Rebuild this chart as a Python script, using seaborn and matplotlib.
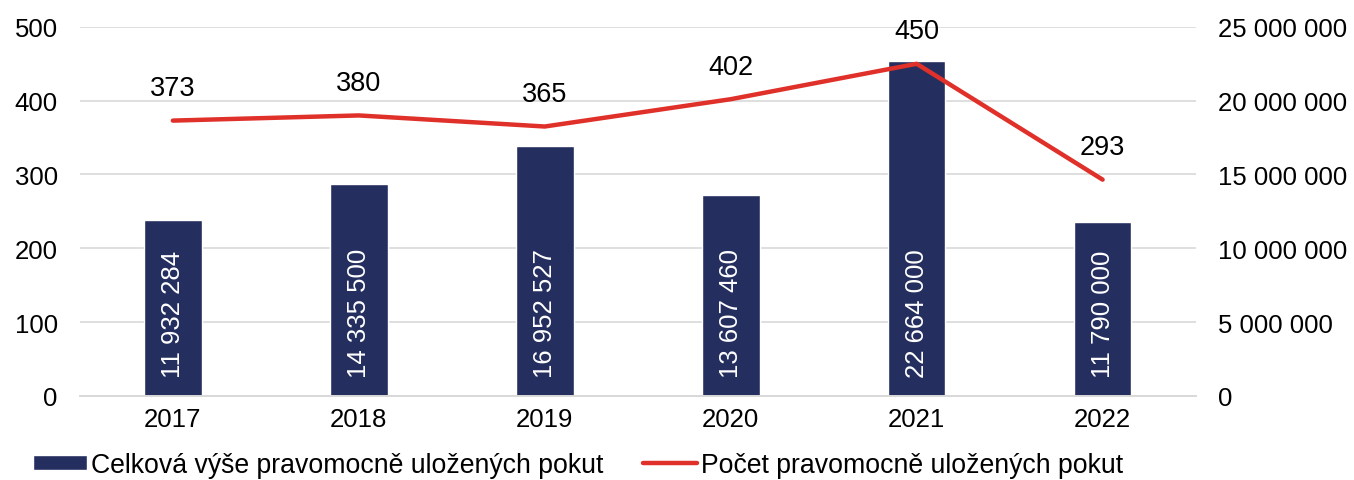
import numpy as np
import pandas as pd
import seaborn as sns
import matplotlib.pyplot as plt
from matplotlib.ticker import FuncFormatter

# data
roky = ["2017", "2018", "2019", "2020", "2021", "2022"]
vyse_pokut = [11932284, 14335500, 16952527, 13607460, 22664000, 11790000]
pocet_pokut = [373, 380, 365, 402, 450, 293]

bar_color = "#252F5F"
line_color = "#E0302A"

sns.set_theme(style="white")
plt.rcParams['font.family'] = ['Liberation Sans', 'DejaVu Sans']
plt.rcParams['font.size'] = 18.5
plt.rcParams['text.color'] = 'black'

df = pd.DataFrame({"rok": roky, "vyse": vyse_pokut, "pocet": pocet_pokut, "pos": np.arange(len(roky))})

fig, ax = plt.subplots(figsize=(13.54, 4.81), dpi=100)
fig.subplots_adjust(left=0.059, right=0.883, top=0.942, bottom=0.175)
ax2 = ax.twinx()

# bars on the primary axis (right scale)
sns.barplot(data=df, x="rok", y="vyse", color=bar_color, width=0.31, saturation=1,
            ax=ax, label="Celková výše pravomocně uložených pokut", zorder=2)
ax.set_ylim(0, 25000000)
ax.set_yticks(np.arange(0, 25000001, 5000000))
ax.yaxis.tick_right()
ax.yaxis.set_label_position("right")
ax.yaxis.set_major_formatter(FuncFormatter(lambda v, p: f"{int(v):,}".replace(",", " ")))
ax.grid(axis="y", color="#D9D9D9", linewidth=1.2, zorder=0)
ax.set_axisbelow(True)
ax.set_xlabel("")
ax.set_ylabel("")
ax.set_xlim(-0.5, 5.5)

for i, v in enumerate(vyse_pokut):
    ax.text(i, 1300000, f"{v:,}".replace(",", " "), rotation=90, ha="center", va="bottom",
            color="white", fontsize=18.5)

# line on the twin axis (left scale)
sns.lineplot(data=df, x="pos", y="pocet", color=line_color, linewidth=3.2, ax=ax2,
             label="Počet pravomocně uložených pokut", legend=False)
ax2.yaxis.tick_left()
ax2.yaxis.set_label_position("left")
ax2.set_ylim(0, 500)
ax2.set_yticks(np.arange(0, 501, 100))
ax2.set_xlim(-0.5, 5.5)
ax2.set_xlabel("")
ax2.set_ylabel("")

for i, v in enumerate(pocet_pokut):
    ax2.annotate(str(v), (i, v), xytext=(0, 14), textcoords="offset points",
                 ha="center", va="bottom", fontsize=19.5, color="black")

for a in (ax, ax2):
    for s in ["top", "left", "right"]:
        a.spines[s].set_visible(False)
    a.spines["bottom"].set_color("#D9D9D9")
    a.tick_params(axis="both", length=0, labelsize=18.5, colors="black")
ax.tick_params(axis="y", pad=16)
ax2.tick_params(axis="y", pad=16)
ax.tick_params(axis="x", pad=8)

h1, l1 = ax.get_legend_handles_labels()
h2, l2 = ax2.get_legend_handles_labels()
if ax.get_legend():
    ax.get_legend().remove()
leg = fig.legend(h1 + h2, l1 + l2, loc="lower left", bbox_to_anchor=(0.007, -0.045), ncol=2,
                 frameon=False, fontsize=19.2, handlelength=2.0, handleheight=0.5,
                 handletextpad=0.15, columnspacing=1.5)
for t in leg.get_texts():
    t.set_color("black")

plt.savefig("out.png", dpi=100)
